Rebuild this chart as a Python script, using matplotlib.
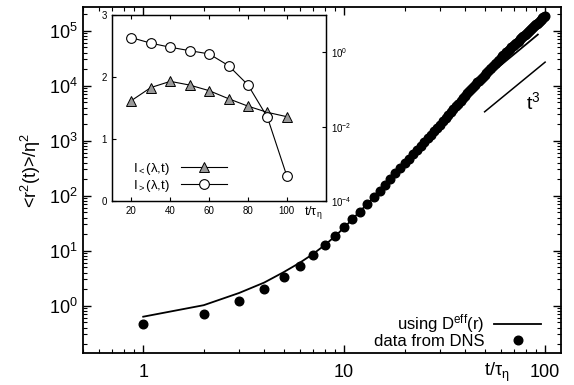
import numpy as np
import matplotlib
matplotlib.use('Agg')
import matplotlib.pyplot as plt
from matplotlib import ticker

plt.rcParams['font.family'] = ['Liberation Sans', 'DejaVu Sans']
plt.rcParams['mathtext.fontset'] = 'custom'
plt.rcParams['mathtext.rm'] = 'Liberation Sans'
plt.rcParams['mathtext.it'] = 'Liberation Sans:italic'
plt.rcParams['mathtext.bf'] = 'Liberation Sans:bold'

# DNS data, <r^2(t)>/eta^2 at t/tau_eta = 1..100
dns_t = np.arange(1, 101)
dns_r2 = [0.46, 0.72, 1.22, 2.0, 3.3, 5.25, 8.2, 12.6, 18.6, 26.6,
          37.7, 51, 71, 93, 123, 158, 202, 254, 315, 386,
          469, 565, 675, 800, 940, 1100, 1280, 1480, 1700, 1960,
          2250, 2570, 2920, 3310, 3740, 4210, 4720, 5280, 5890, 6550,
          7260, 8030, 8810, 9630, 10500, 11430, 12420, 13460, 14590, 15780,
          17020, 18350, 19760, 21230, 22790, 24430, 26170, 27980, 29900, 31900,
          33960, 36150, 38150, 40300, 42480, 44770, 47170, 49620, 52120, 54800,
          57540, 60340, 63240, 66240, 69450, 72620, 75990, 79430, 82970, 86640,
          90370, 94260, 98300, 102400, 106600, 111000, 115500, 120100, 124900, 129700,
          134700, 139900, 145200, 150600, 156200, 161900, 167700, 173700, 179800, 186200]

# model curve using D^eff(r)
model_t = [1, 2, 3, 4, 5, 6, 7, 8, 9, 10, 15, 20, 30, 40, 50, 60, 70, 80, 92]
model_r2 = [0.63, 1.02, 1.70, 2.63, 4.07, 6.0, 8.7, 12.6, 18.2, 26.3,
            120, 380, 1860, 5750, 13500, 23400, 37200, 55600, 85000]

# t^3 guide
guide_t = [50, 100]
guide_r2 = [3350, 26800]

# inset
inset_t = [20, 30, 40, 50, 60, 70, 80, 90, 100]
I_less = [1.62, 1.83, 1.93, 1.87, 1.78, 1.65, 1.53, 1.43, 1.36]
I_greater = [2.46, 1.75, 1.36, 1.10, 0.90, 0.436, 0.132, 0.0178, 0.00047]

fig = plt.figure(figsize=(5.74, 3.85), dpi=100)
ax = fig.add_axes([0.1441, 0.0823, 0.8333, 0.9003])

ax.plot(model_t, model_r2, '-', color='black', lw=1.3, label=r'using D$^{\mathrm{eff}}$(r)')
ax.plot(dns_t, dns_r2, 'o', color='black', ms=6.2, ls='none', label='data from DNS')
ax.plot(guide_t, guide_r2, '-', color='black', lw=1.1)
ax.text(87, 5000, r't$^3$', fontsize=14, ha='center', va='center')

ax.set_xscale('log')
ax.set_yscale('log')
ax.set_xlim(0.5, 120)
ax.set_ylim(0.136, 2.73e5)
ax.set_xticks([1, 10, 100])
ax.set_yticks([1e0, 1e1, 1e2, 1e3, 1e4, 1e5])
ax.xaxis.set_major_formatter(ticker.FuncFormatter(lambda v, p: '%g' % v))
ax.xaxis.set_minor_formatter(ticker.NullFormatter())
ax.yaxis.set_minor_formatter(ticker.NullFormatter())
ax.tick_params(which='both', direction='in', top=True, right=True, labelsize=13)
ax.tick_params(which='major', length=6, width=1)
ax.tick_params(which='minor', length=3, width=0.8)
ax.tick_params(axis='x', pad=8)
for s in ax.spines.values():
    s.set_linewidth(1.3)

ax.set_ylabel(r'<r$^2$(t)>/η$^2$', fontsize=13)
ax.yaxis.set_label_coords(-0.083, 0.529)
ax.text(0.866, -0.055, r't/τ$_{\mathrm{η}}$', transform=ax.transAxes,
        fontsize=13, ha='center', va='center')

leg = ax.legend(loc='lower right', bbox_to_anchor=(0.958, 0.012), frameon=False,
                markerfirst=False, fontsize=12, handlelength=2.8,
                labelspacing=-0.05, borderpad=0, borderaxespad=0, handletextpad=0.6)

# inset
axi = fig.add_axes([0.1951, 0.4779, 0.3723, 0.4831])
axi.plot(inset_t, I_less, '-^', color='black', lw=0.8, ms=6.5,
         mfc='#999999', mec='black', mew=0.7, label='I$_{<}$(λ,t)')
axi.set_xlim(10, 120)
axi.set_ylim(0, 3)
axi.set_xticks([20, 40, 60, 80, 100])
axi.set_yticks([0, 1, 2, 3])
axi.tick_params(direction='in', top=True, labelsize=7, length=3, width=0.8)

axr = axi.twinx()
axr.plot(inset_t, I_greater, '-o', color='black', lw=0.8, ms=7,
         mfc='white', mec='black', mew=0.8, label='I$_{>}$(λ,t)')
axr.set_yscale('log')
axr.set_ylim(1e-4, 10)
axr.set_yticks([1e-4, 1e-2, 1e0])
axr.yaxis.set_minor_locator(ticker.NullLocator())
axr.tick_params(direction='in', labelsize=7, length=3, width=0.8)
for a in (axi, axr):
    for s in a.spines.values():
        s.set_linewidth(0.9)

axi.text(0.943, -0.06, r't/τ$_{\mathrm{η}}$', transform=axi.transAxes,
         fontsize=9, ha='center', va='center')

h1, l1 = axi.get_legend_handles_labels()
h2, l2 = axr.get_legend_handles_labels()
axr.legend(h1 + h2, l1 + l2, loc='lower left', bbox_to_anchor=(0.1, 0.04),
           frameon=False, markerfirst=False, fontsize=9.5, handlelength=3.5,
           labelspacing=0.05, borderpad=0, borderaxespad=0, handletextpad=0.8)

fig.savefig('out.png', dpi=100)
